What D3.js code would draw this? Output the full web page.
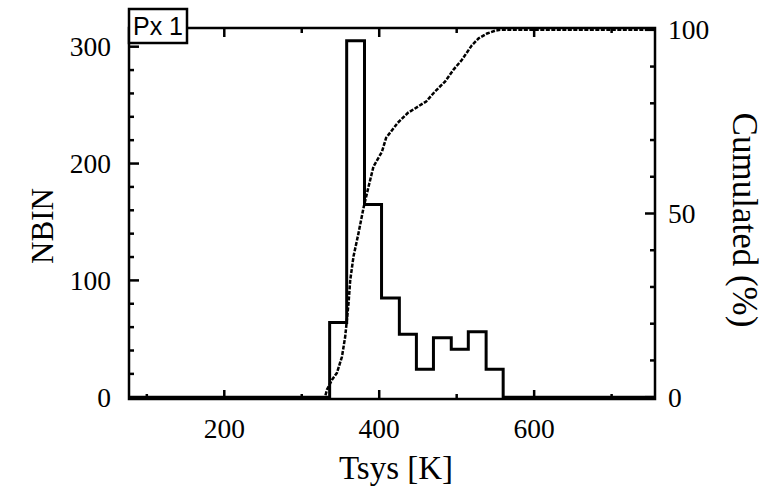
<!DOCTYPE html>
<html>
<head>
<meta charset="utf-8">
<script src="https://cdn.jsdelivr.net/npm/d3@7"></script>
<style>
  body { margin: 0; background: #fff; }
  svg { display: block; }
</style>
</head>
<body>
<svg id="svg" width="767" height="494"></svg>
<script>
// histogram of Tsys for pixel 1
var binEdges = [336, 358, 381, 403, 426, 448, 470, 493, 515, 538, 560];
var counts = [64, 305, 165, 85, 54, 24, 51, 41, 56, 24];

// cumulated distribution (%)
var cumT = [77, 330, 332.5, 339, 345.4, 351.9, 356.1, 360.4, 362.6, 366.8, 373.3, 379.7, 386.2, 392.6,
            403.5, 408.9, 424, 437, 450, 460.6, 471.9, 484.9, 495.7, 506.6, 519.6, 528.4, 539.2, 550, 556, 756];
var cumPct = [0, 0, 2.0, 4.7, 6.6, 11.0, 16.5, 25.6, 31.9, 38.3, 44.7, 51.5, 57.3, 62.8,
              66.8, 70.6, 74.7, 77.4, 79.1, 80.5, 83.2, 85.9, 89.1, 91.8, 95.8, 97.7, 99.0, 99.8, 100, 100];

var xMajor = [200, 400, 600];
var xMinor = [100, 300, 500, 700];
var yMajor = [0, 100, 200, 300];
var yMinor = [20, 40, 60, 80, 120, 140, 160, 180, 220, 240, 260, 280];
var pMajor = [0, 50, 100];
var pMinor = [10, 20, 30, 40, 60, 70, 80, 90];

var svg = d3.select("svg");

// frame of the plot (note: "top" is taken by window.top)
var fLeft = 129, fRight = 655, fTop = 28, fBottom = 399;

var x = d3.scaleLinear().domain([77, 756]).range([fLeft, fRight]);
var y = d3.scaleLinear().domain([-1.5, 316]).range([fBottom, fTop]);
var yp = d3.scaleLinear().domain([-0.5, 100.5]).range([fBottom, fTop]);

var serif = "'Liberation Serif', 'Times New Roman', serif";

// histogram as a step outline, zero outside the bins
var steps = [[x.domain()[0], 0], [binEdges[0], 0]];
for (var i = 0; i < counts.length; i++) {
    steps.push([binEdges[i], counts[i]]);
    steps.push([binEdges[i + 1], counts[i]]);
}
steps.push([binEdges[binEdges.length - 1], 0]);
steps.push([x.domain()[1], 0]);

svg.append("path")
    .datum(steps)
    .attr("fill", "none")
    .attr("stroke", "#000")
    .attr("stroke-width", 3)
    .attr("d", d3.line().x(function(d) { return x(d[0]); }).y(function(d) { return y(d[1]); }));

// cumulated curve
svg.append("path")
    .datum(d3.zip(cumT, cumPct))
    .attr("fill", "none")
    .attr("stroke", "#000")
    .attr("stroke-width", 2.5)
    .attr("stroke-dasharray", "4,1.5")
    .attr("d", d3.line().x(function(d) { return x(d[0]); }).y(function(d) { return yp(d[1]); }));

// frame
svg.append("rect")
    .attr("x", fLeft).attr("y", fTop)
    .attr("width", fRight - fLeft).attr("height", fBottom - fTop)
    .attr("fill", "none")
    .attr("stroke", "#000")
    .attr("stroke-width", 2.5);

// ticks, all drawn inward
var tg = svg.append("g").attr("stroke", "#000").attr("stroke-width", 2.5);
function seg(x1, y1, x2, y2) {
    tg.append("line").attr("x1", x1).attr("y1", y1).attr("x2", x2).attr("y2", y2);
}
function ticks(vals, len, fn) {
    vals.forEach(function(v) { fn(v, len); });
}
ticks(xMajor, 9, function(v, l) { seg(x(v), fBottom, x(v), fBottom - l); seg(x(v), fTop, x(v), fTop + l); });
ticks(xMinor, 5, function(v, l) { seg(x(v), fBottom, x(v), fBottom - l); seg(x(v), fTop, x(v), fTop + l); });
ticks(yMajor, 10, function(v, l) { seg(fLeft, y(v), fLeft + l, y(v)); });
ticks(yMinor, 5, function(v, l) { seg(fLeft, y(v), fLeft + l, y(v)); });
ticks(pMajor, 10, function(v, l) { seg(fRight, yp(v), fRight - l, yp(v)); });
ticks(pMinor, 5, function(v, l) { seg(fRight, yp(v), fRight - l, yp(v)); });

// tick labels
var lab = svg.append("g").attr("font-family", serif).attr("font-size", 27.5).attr("fill", "#000");
xMajor.forEach(function(v) {
    lab.append("text").attr("x", x(v)).attr("y", 438).attr("text-anchor", "middle").text(v);
});
yMajor.forEach(function(v) {
    lab.append("text").attr("x", 111).attr("y", y(v)).attr("dy", "0.35em").attr("text-anchor", "end").text(v);
});
pMajor.forEach(function(v) {
    lab.append("text").attr("x", 668).attr("y", yp(v)).attr("dy", "0.35em").attr("text-anchor", "start").text(v);
});

// axis titles
svg.append("text")
    .attr("x", 396).attr("y", 479)
    .attr("text-anchor", "middle")
    .attr("font-family", serif).attr("font-size", 33)
    .text("Tsys [K]");

svg.append("text")
    .attr("transform", "translate(53,226) rotate(-90)")
    .attr("text-anchor", "middle")
    .attr("font-family", serif).attr("font-size", 31)
    .text("NBIN");

svg.append("text")
    .attr("transform", "translate(733,220) rotate(90)")
    .attr("text-anchor", "middle")
    .attr("font-family", serif).attr("font-size", 35)
    .text("Cumulated (%)");

// panel label box
svg.append("rect")
    .attr("x", fLeft).attr("y", 9)
    .attr("width", 58).attr("height", 34)
    .attr("fill", "#fff")
    .attr("stroke", "#000")
    .attr("stroke-width", 2.5);
svg.append("text")
    .attr("x", fLeft + 29).attr("y", 35)
    .attr("text-anchor", "middle")
    .attr("font-family", "'Liberation Sans', Arial, sans-serif")
    .attr("font-size", 25)
    .text("Px 1");
</script>
</body>
</html>
